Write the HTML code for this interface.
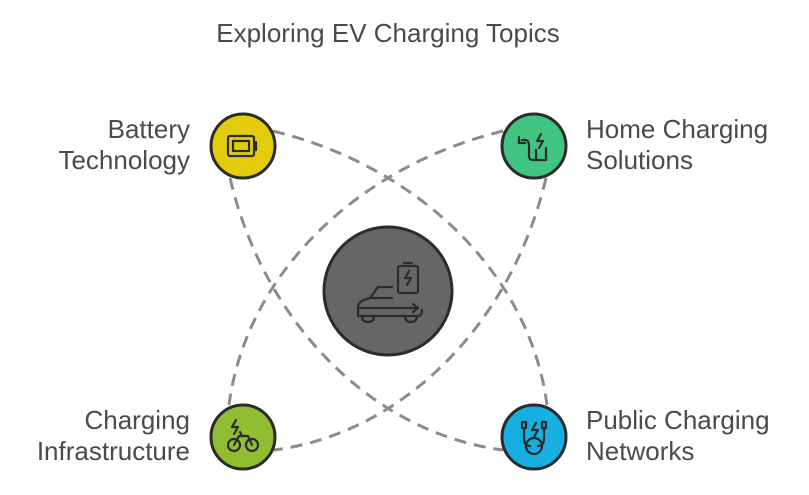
<!DOCTYPE html>
<html><head><meta charset="utf-8"><style>
body{margin:0;background:#fff;}
svg text{font-family:"Liberation Sans",sans-serif;fill:#4a4a4a;font-size:26px;}
</style></head><body>
<svg width="809" height="490" viewBox="0 0 809 490" xmlns="http://www.w3.org/2000/svg">
<text x="388" y="42" text-anchor="middle" font-size="26">Exploring EV Charging Topics</text>
<g fill="none" stroke="#8c8c8c" stroke-width="3" stroke-dasharray="12,8">
<path d="M273 131 C420 167 530 275 547 405"/>
<path d="M230 178 C264 323 372 433 503 450"/>
<path d="M503 131 C356 167 246 275 229 405"/>
<path d="M546 178 C512 323 404 433 274 450"/>
</g>
<g stroke="#2b2b2b" stroke-width="3">
<circle cx="388" cy="291" r="64" fill="#666"/>
<circle cx="243" cy="146" r="32" fill="#e3cc0b"/>
<circle cx="534" cy="146" r="32" fill="#3fc481"/>
<circle cx="243" cy="437" r="32" fill="#8fbe32"/>
<circle cx="534" cy="437" r="32" fill="#17aee0"/>
</g>
<g fill="none" stroke="#2b2b2b" stroke-width="2.2" stroke-linecap="round" stroke-linejoin="round">
<rect x="228" y="136" width="26" height="20" rx="2"/><rect x="233" y="141" width="16" height="10"/><path d="M256 142v8"/>
<path d="M358 316 v-8 q0-6 6-8 l6-2 l8-11 h14 M371 298 h21 M358 308 h60 M413 304 l5 4 l-5 4 M362 316 q0 6 6 6 q6 0 6-6 M405 316 q0 6 6 6 q6 0 6-6 M358 316 h60 q4 0 4-6"/>
<rect x="398" y="266" width="20" height="27" rx="2"/><path d="M404 263h8 M409 271l-4 7h6l-4 7"/>
<path d="M522 140 h4 M519 137 v6 h6 M525 140 q4 0 4 6 v10 q0 4 4 4 h13 v-12 M536 150 v10 M541 134 l-4 7h6l-4 7"/>
<circle cx="234" cy="445" r="6"/><circle cx="252" cy="445" r="6"/><path d="M234 445 l5-9 h9 l4 9 M242 436 l-2-4 M236 420 l-4 7h6l-4 7"/>
<circle cx="534" cy="446" r="8"/><path d="M524 438 v-10 M544 438 v-10 M522 428 h4 v-6 h-4z M542 428 h4 v-6 h-4z M536 423 l-4 7h6l-4 7 M524 438 q0 8 6 8 M544 438 q0 8-6 8"/>
</g>
<text x="190" y="138" text-anchor="end">Battery</text>
<text x="190" y="169" text-anchor="end">Technology</text>
<text x="586" y="138">Home Charging</text>
<text x="586" y="169">Solutions</text>
<text x="190" y="429" text-anchor="end">Charging</text>
<text x="190" y="460" text-anchor="end">Infrastructure</text>
<text x="586" y="429">Public Charging</text>
<text x="586" y="460">Networks</text>
</svg>
</body></html>
